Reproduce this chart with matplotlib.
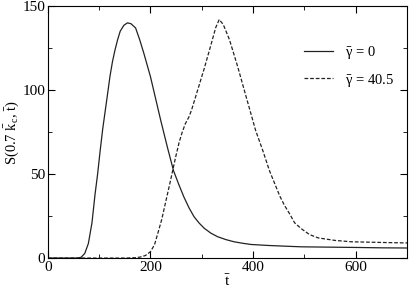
import matplotlib
matplotlib.use("Agg")
import matplotlib.pyplot as plt
from matplotlib.ticker import MultipleLocator

plt.rcParams['font.family'] = ['Liberation Serif', 'DejaVu Serif']
plt.rcParams['mathtext.fontset'] = 'custom'
plt.rcParams['mathtext.rm'] = 'Liberation Serif'
plt.rcParams['mathtext.it'] = 'Liberation Serif:italic'
plt.rcParams['mathtext.default'] = 'regular'

# gamma = 0
t_solid = [0, 50, 58, 65, 72, 79, 86, 92, 97, 102, 107, 112, 117, 121, 126,
           131, 136, 141, 148, 155, 162, 171, 179, 187, 200, 210, 220, 233, 245,
           255, 265, 275, 285, 295, 305, 318, 331, 347, 363, 380, 396, 430, 461,
           494, 550, 606, 650, 700]
s_solid = [0, 0, 0, 0.5, 2.8, 8.7, 21, 38, 50, 64, 77, 88, 99, 108, 117,
           124, 130, 135, 138.5, 140, 139.5, 137, 130, 122, 108, 95, 82, 66, 52,
           44, 36.5, 30, 24.6, 20.8, 17.7, 14.8, 12.7, 11, 9.7, 8.8, 8.1, 7.5, 7.1,
           6.7, 6.5, 6.3, 6.1, 6.0]

# gamma = 40.5
t_dash = [0, 150, 170, 180, 190, 200, 208, 216, 222, 229, 239, 249, 256, 262,
          268, 275, 280, 292, 305, 318, 327, 334, 342, 354, 370, 381, 393, 405,
          419, 432, 442, 452, 461, 471, 481, 494, 510, 527, 560, 592, 650, 700]
s_dash = [0, 0, 0.2, 0.6, 1.5, 3.8, 8, 16.5, 23, 32.5, 46, 60, 69, 75,
          80, 84, 88, 100, 113, 127, 137, 142, 139, 130, 114, 102, 89, 76,
          64, 52, 44.5, 37, 31.5, 26.5, 21, 17.5, 14, 12, 10.5, 9.7, 9.3, 9]

fig = plt.figure(figsize=(4.09, 2.89), dpi=100)
ax = fig.add_axes([0.117, 0.107, 0.878, 0.872])

ax.plot(t_solid, s_solid, '-', color='#222222', lw=0.9,
        label=r'$\bar{\gamma}$ = 0')
ax.plot(t_dash, s_dash, '--', color='#222222', lw=0.9, dashes=(3, 1.5),
        label=r'$\bar{\gamma}$ = 40.5')

ax.set_xlim(0, 700)
ax.set_ylim(0, 150)
ax.xaxis.set_major_locator(MultipleLocator(200))
ax.xaxis.set_minor_locator(MultipleLocator(100))
ax.yaxis.set_major_locator(MultipleLocator(50))
ax.yaxis.set_minor_locator(MultipleLocator(25))
ax.tick_params(which='both', direction='in', top=True, right=True, labelsize=11)
ax.tick_params(which='major', length=5, pad=2)
ax.tick_params(which='minor', length=3)

ax.set_xlabel(r'$\bar{t}$', fontsize=11)
ax.set_ylabel(r'S(0.7 $\bar{k}_c$, $\bar{t}$)', fontsize=10.5)
ax.xaxis.set_label_coords(0.5, -0.062)
ax.yaxis.set_label_coords(-0.074, 0.5)

ax.legend(loc='upper right', frameon=False, fontsize=10.5, handlelength=2.0,
          bbox_to_anchor=(1.0, 0.9), labelspacing=0.7)

fig.savefig('out.png', dpi=100)
